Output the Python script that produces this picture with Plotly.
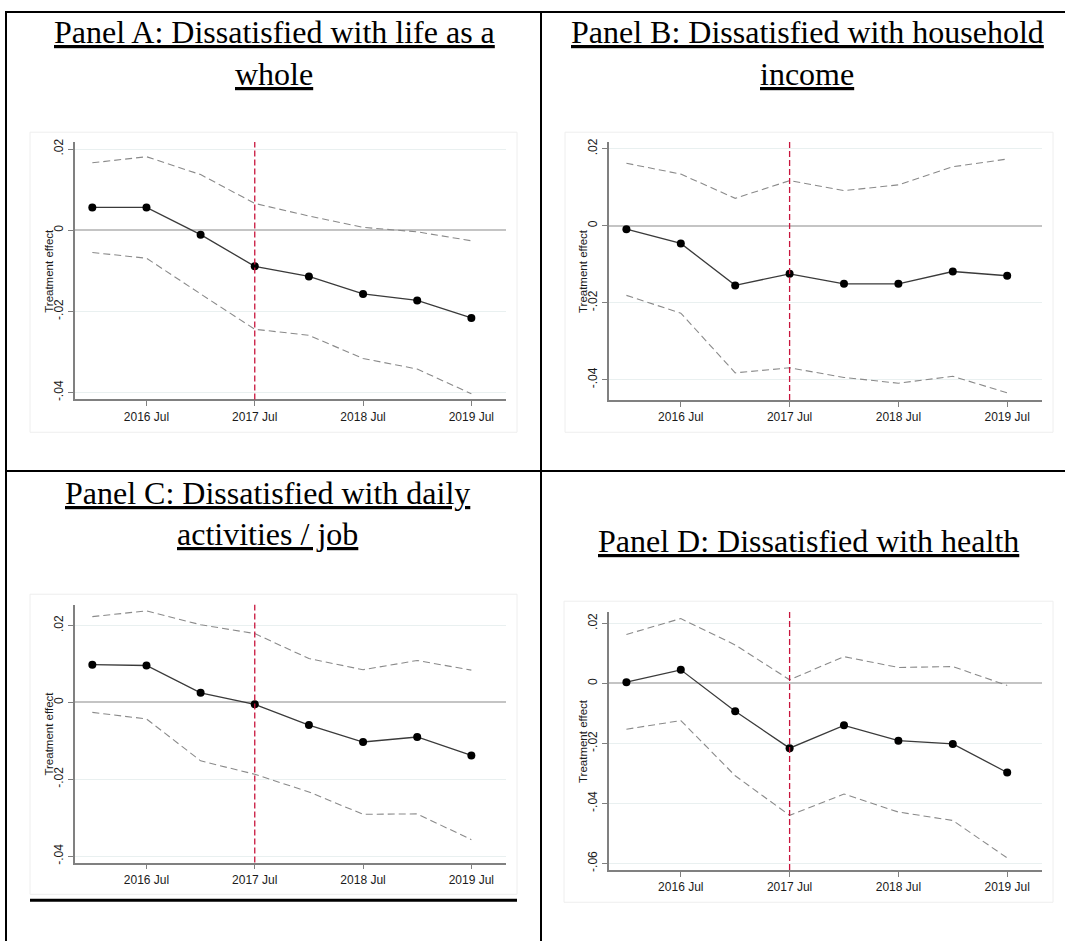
import plotly.graph_objects as go

# ---------------- data ----------------
periods = ["2016 Jan", "2016 Jul", "2017 Jan", "2017 Jul",
           "2018 Jan", "2018 Jul", "2019 Jan", "2019 Jul"]
x_tick_labels = ["2016 Jul", "2017 Jul", "2018 Jul", "2019 Jul"]
event_period = "2017 Jul"

a_est = [0.0056, 0.0056, -0.0011, -0.0089, -0.0114, -0.0157, -0.0173, -0.0216]
a_hi = [0.0166, 0.0181, 0.0137, 0.0066, 0.0035, 0.0007, -0.0004, -0.0026]
a_lo = [-0.0055, -0.0069, -0.0157, -0.0244, -0.0259, -0.0316, -0.0342, -0.0403]

b_est = [-0.0009, -0.0046, -0.0155, -0.0125, -0.0151, -0.0151, -0.0119, -0.0130]
b_hi = [0.0162, 0.0134, 0.0071, 0.0117, 0.0091, 0.0106, 0.0153, 0.0173]
b_lo = [-0.0181, -0.0227, -0.0382, -0.0369, -0.0394, -0.0409, -0.0391, -0.0434]

c_est = [0.0098, 0.0096, 0.0025, -0.0005, -0.0059, -0.0103, -0.0090, -0.0138]
c_hi = [0.0223, 0.0238, 0.0202, 0.0179, 0.0114, 0.0085, 0.0109, 0.0084]
c_lo = [-0.0026, -0.0043, -0.0152, -0.0187, -0.0233, -0.0291, -0.0290, -0.0357]

d_est = [0.0004, 0.0045, -0.0093, -0.0216, -0.0140, -0.0191, -0.0202, -0.0297]
d_hi = [0.0163, 0.0216, 0.0128, 0.0012, 0.0089, 0.0053, 0.0056, -0.0007]
d_lo = [-0.0153, -0.0124, -0.0308, -0.0440, -0.0369, -0.0429, -0.0457, -0.0582]

yticks_abc = [0.02, 0.0, -0.02, -0.04]
ylabels_abc = [".02", "0", "-.02", "-.04"]
yticks_d = [0.02, 0.0, -0.02, -0.04, -0.06]
ylabels_d = [".02", "0", "-.02", "-.04", "-.06"]

titles = {
    "A": ["Panel A: Dissatisfied with life as a", "whole"],
    "B": ["Panel B: Dissatisfied with household", "income"],
    "C": ["Panel C: Dissatisfied with daily", "activities / job"],
    "D": ["Panel D: Dissatisfied with health"],
}
y_title = "Treatment effect"

# ---------------- layout helpers ----------------
W, H = 1065, 943


def px(x):
    return x / W


def py(y):
    return 1 - y / H


SANS = "Liberation Sans, Arial, sans-serif"
SERIF = "Liberation Serif, Times New Roman, serif"

panels = [
    dict(est=a_est, lo=a_lo, hi=a_hi, tv=yticks_abc, tt=ylabels_abc,
         yr=[-0.0417, 0.0217], box=(75, 506, 139, 398), reg=(30, 517, 129, 431), tx=49),
    dict(est=b_est, lo=b_lo, hi=b_hi, tv=yticks_abc, tt=ylabels_abc,
         yr=[-0.04525, 0.0217], box=(609, 1042, 139, 398.5), reg=(565, 1053, 129, 431), tx=583),
    dict(est=c_est, lo=c_lo, hi=c_hi, tv=yticks_abc, tt=ylabels_abc,
         yr=[-0.04164, 0.02542], box=(75, 506, 604.5, 864), reg=(30, 517, 594, 896), tx=49),
    dict(est=d_est, lo=d_lo, hi=d_hi, tv=yticks_d, tt=ylabels_d,
         yr=[-0.0622, 0.02375], box=(609, 1042, 612, 871.5), reg=(564, 1053, 601, 904), tx=583),
]

fig = go.Figure()
shapes = []
annotations = []
event_idx = periods.index(event_period)
xtick_vals = [periods.index(t) for t in x_tick_labels]

for i, p in enumerate(panels, start=1):
    xa = "x" if i == 1 else f"x{i}"
    ya = "y" if i == 1 else f"y{i}"
    x0, x1, yt, yb = p["box"]
    for ser in (p["hi"], p["lo"]):
        fig.add_trace(go.Scatter(
            x=list(range(len(periods))), y=ser, mode="lines",
            line=dict(color="#8a8a8a", width=1.1, dash="7px,4px"),
            xaxis=xa, yaxis=ya, hoverinfo="skip"))
    fig.add_trace(go.Scatter(
        x=list(range(len(periods))), y=p["est"], mode="lines+markers",
        line=dict(color="#3a3a3a", width=1.3),
        marker=dict(color="#000000", size=8),
        xaxis=xa, yaxis=ya))

    fig.layout[f"xaxis{'' if i == 1 else i}"] = dict(
        domain=[px(x0), px(x1)], anchor=ya, range=[-0.32, 7.64],
        tickmode="array", tickvals=xtick_vals, ticktext=x_tick_labels,
        showgrid=False, zeroline=False, showline=True, linecolor="#808080",
        linewidth=1.5, ticks="outside", ticklen=5, tickcolor="#808080",
        tickfont=dict(family=SANS, size=12, color="#1a1a1a"), fixedrange=True)
    fig.layout[f"yaxis{'' if i == 1 else i}"] = dict(
        domain=[py(yb), py(yt)], anchor=xa, range=p["yr"],
        tickmode="array", tickvals=p["tv"], ticktext=p["tt"], tickangle=-90,
        showgrid=True, gridcolor="#e9f0f0", gridwidth=1,
        zeroline=True, zerolinecolor="#c4c4c4", zerolinewidth=1.6,
        showline=True, linecolor="#808080", linewidth=1.5,
        ticks="outside", ticklen=5, tickcolor="#808080",
        tickfont=dict(family=SANS, size=12, color="#1a1a1a"), fixedrange=True)

    shapes.append(dict(type="line", xref=xa, yref=f"{ya} domain",
                       x0=event_idx, x1=event_idx, y0=0, y1=1,
                       line=dict(color="#c8143c", width=1.3, dash="6px,3px")))
    rx0, rx1, ry0, ry1 = p["reg"]
    shapes.append(dict(type="rect", xref="paper", yref="paper",
                       x0=px(rx0), x1=px(rx1), y0=py(ry1), y1=py(ry0),
                       line=dict(color="#eeeeee", width=1), layer="below"))
    annotations.append(dict(text=y_title, xref="paper", yref="paper",
                            x=px(p["tx"]), y=py((yt + yb) / 2), showarrow=False,
                            textangle=-90, xanchor="center", yanchor="middle",
                            font=dict(family=SANS, size=11.5, color="#1a1a1a")))

# ---------------- table borders ----------------
BL = dict(color="#000000", width=2)
shapes += [
    dict(type="line", xref="paper", yref="paper", x0=px(6), x1=px(6), y0=py(7), y1=py(943), line=BL),
    dict(type="line", xref="paper", yref="paper", x0=px(5), x1=px(1065), y0=py(8), y1=py(8), line=BL),
    dict(type="line", xref="paper", yref="paper", x0=px(541), x1=px(541), y0=py(7), y1=py(943), line=BL),
    dict(type="line", xref="paper", yref="paper", x0=px(5), x1=px(1065), y0=py(470), y1=py(470), line=BL),
    dict(type="line", xref="paper", yref="paper", x0=px(30), x1=px(517), y0=py(902), y1=py(902),
         line=dict(color="#000000", width=3)),
]

# ---------------- panel titles ----------------
title_pos = {
    "A": (274, [28, 70]),
    "B": (807, [28, 70]),
    "C": (267, [492, 533]),
    "D": (808, [540]),
}
for key, lines in titles.items():
    cx, ys = title_pos[key]
    for txt, yy in zip(lines, ys):
        annotations.append(dict(text=f"<u>{txt}</u>", xref="paper", yref="paper",
                                x=px(cx), y=py(yy), showarrow=False,
                                xanchor="center", yanchor="middle",
                                font=dict(family=SERIF, size=32, color="#000000")))

fig.update_layout(
    width=W, height=H, margin=dict(l=0, r=0, t=0, b=0),
    paper_bgcolor="white", plot_bgcolor="white", showlegend=False,
    shapes=shapes, annotations=annotations,
)

fig.write_html("out.html")
